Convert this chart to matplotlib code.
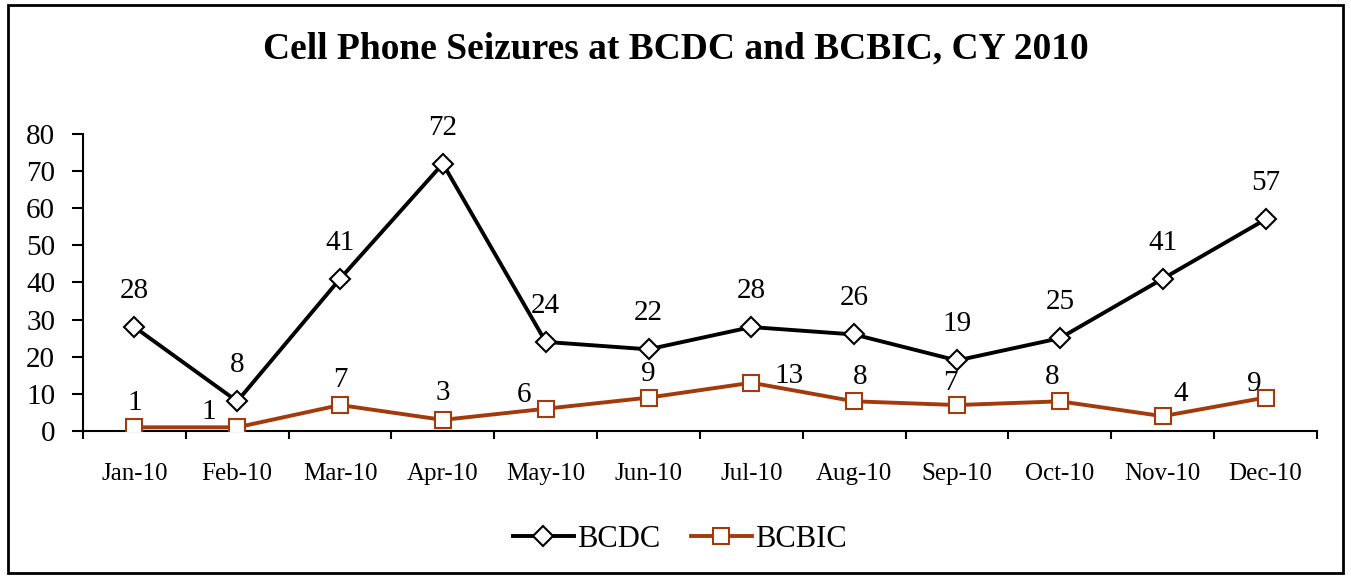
import numpy as np
import matplotlib
matplotlib.use('Agg')
import matplotlib.pyplot as plt
from matplotlib.patches import Rectangle

months = ['Jan-10', 'Feb-10', 'Mar-10', 'Apr-10', 'May-10', 'Jun-10',
          'Jul-10', 'Aug-10', 'Sep-10', 'Oct-10', 'Nov-10', 'Dec-10']
bcdc = [28, 8, 41, 72, 24, 22, 28, 26, 19, 25, 41, 57]
bcbic = [1, 1, 7, 3, 6, 9, 13, 8, 7, 8, 4, 9]

# label offsets in pixels (dx, dy), moved by hand in the original
bcdc_off = [(0, 36)] * 12
bcbic_off = [(0, 24), (-28, 15), (0, 25), (0, 27), (-22, 14), (0, 24),
             (38, 7), (6, 24), (-7, 22), (-8, 24), (18, 22), (-11, 14)]

plt.rcParams['font.family'] = 'Liberation Serif'
brown = '#A33A0B'

fig = plt.figure(figsize=(13.51, 5.76), dpi=100)
ax = fig.add_axes([0.0614, 0.2517, 0.9134, 0.5157])

x = np.arange(len(months))
ax.plot(x, bcdc, color='black', lw=2.8, marker='D', markersize=10,
        markerfacecolor='white', markeredgecolor='black', markeredgewidth=1.5,
        label='BCDC', zorder=3)
ax.plot(x, bcbic, color=brown, lw=2.8, marker='s', markersize=12,
        markerfacecolor='white', markeredgecolor=brown, markeredgewidth=1.5,
        label='BCBIC', zorder=3)

for i in range(len(months)):
    ax.annotate(str(bcdc[i]), (x[i], bcdc[i]), xytext=bcdc_off[i],
                textcoords='offset pixels', ha='center', va='center', fontsize=21)
    ax.annotate(str(bcbic[i]), (x[i], bcbic[i]), xytext=bcbic_off[i],
                textcoords='offset pixels', ha='center', va='center', fontsize=21)

ax.set_xlim(-0.5, 11.5)
ax.set_ylim(0, 80)
ax.set_yticks(range(0, 81, 10))
ax.set_xticks(x)
ax.set_xticklabels(months)
ax.set_xticks(np.arange(-0.5, 12, 1), minor=True)
ax.tick_params(axis='x', which='major', length=0, pad=23, labelsize=18)
ax.tick_params(axis='x', which='minor', length=6, width=1.5, direction='out')
ax.tick_params(axis='y', length=8, width=1.5, direction='out', pad=12, labelsize=21)

for s in ['top', 'right']:
    ax.spines[s].set_visible(False)
ax.spines['left'].set_linewidth(1.5)
ax.spines['bottom'].set_linewidth(1.5)

fig.text(0.5, 0.915, 'Cell Phone Seizures at BCDC and BCBIC, CY 2010',
         ha='center', va='center', fontsize=27, fontweight='bold')

fig.legend(loc='center', bbox_to_anchor=(0.503, 0.064), ncol=2, frameon=False,
           fontsize=22, handlelength=2.0, columnspacing=1.0, handletextpad=0.1)

fig.add_artist(Rectangle((0.006, 0.006), 0.988, 0.986, transform=fig.transFigure,
                         fill=False, edgecolor='black', lw=2))

plt.savefig('out.png', dpi=100)
